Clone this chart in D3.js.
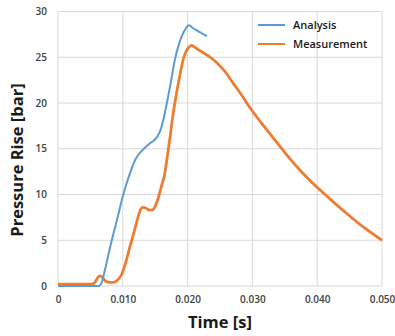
<!DOCTYPE html>
<html>
<meta charset="utf-8">
<script src="https://d3js.org/d3.v7.min.js"></script>
<style>
  body { margin: 0; background: #fff; }
  text { font-family: "Open Sans", sans-serif; }
</style>
<div id="chart_div"></div>
<script>

// time [s] and pressure rise [bar]
var analysisT = [0, 0.0063, 0.0067, 0.0072, 0.0078, 0.0083, 0.0092, 0.0100, 0.0111, 0.0120, 0.0127, 0.0134,
  0.0142, 0.0148, 0.0153, 0.0158, 0.0163, 0.0168, 0.0174, 0.0180, 0.0186, 0.0191, 0.0196, 0.0202,
  0.0208, 0.0215, 0.0222, 0.0230];
var analysisP = [0, 0, 0.3, 1.6, 3.5, 5.0, 7.5, 9.8, 12.3, 13.9, 14.6, 15.1,
  15.6, 15.9, 16.3, 17.0, 18.3, 20.0, 22.2, 24.6, 26.3, 27.3, 28.0, 28.5,
  28.2, 27.9, 27.6, 27.3];

var measT = [0, 0.0052, 0.0057, 0.0061, 0.0065, 0.0069, 0.0074, 0.0080, 0.0086, 0.0091, 0.0095,
  0.0099, 0.0105, 0.0111, 0.0117, 0.0123, 0.0127, 0.0131, 0.0136, 0.0141, 0.0145, 0.0150, 0.0155,
  0.0160, 0.0164, 0.0168, 0.0173, 0.0178, 0.0183, 0.0188, 0.0193, 0.0198, 0.0202, 0.0206, 0.0211,
  0.0217, 0.0224, 0.0235, 0.0245, 0.0257, 0.0270, 0.0283, 0.0296, 0.0314, 0.0332, 0.0350, 0.0369,
  0.0385, 0.0401, 0.0420, 0.0446, 0.0472, 0.0500];
var measP = [0.2, 0.2, 0.4, 0.9, 1.1, 0.9, 0.5, 0.4, 0.4, 0.6, 0.9,
  1.4, 2.7, 4.3, 5.8, 7.4, 8.3, 8.6, 8.5, 8.3, 8.3, 8.7, 9.7,
  11.0, 12.0, 13.8, 16.3, 19.0, 21.1, 23.0, 24.7, 25.7, 26.1, 26.3, 26.1,
  25.8, 25.5, 25.0, 24.4, 23.5, 22.2, 20.9, 19.5, 17.8, 16.2, 14.6, 13.0,
  11.8, 10.7, 9.5, 7.9, 6.4, 5.0];

var xTicks = [0, 0.01, 0.02, 0.03, 0.04, 0.05];
var xTickLabels = ["0", "0.010", "0.020", "0.030", "0.040", "0.050"];
var yTicks = [0, 5, 10, 15, 20, 25, 30];
var seriesNames = ["Analysis", "Measurement"];
var seriesColors = ["#5b9bd5", "#ed7d31"];

var W = 395, H = 336;
var margin = {top: 11.5, right: 13, bottom: 50, left: 58},
  width = W - margin.left - margin.right,
  height = H - margin.top - margin.bottom;

var svg = d3.select("#chart_div")
.append("svg")
  .attr("width", W)
  .attr("height", H);

var g = svg.append("g")
  .attr("transform", "translate(" + margin.left + "," + margin.top + ")");

var x = d3.scaleLinear().domain([0, 0.05]).range([0, width]);
var y = d3.scaleLinear().domain([0, 30]).range([height, 0]);

// grid
g.selectAll(".vgrid").data(xTicks).enter().append("line")
  .attr("x1", function(d) { return x(d); }).attr("x2", function(d) { return x(d); })
  .attr("y1", 0).attr("y2", height)
  .attr("stroke", "#d9d9d9").attr("stroke-width", 1);
g.selectAll(".hgrid").data(yTicks).enter().append("line")
  .attr("x1", 0).attr("x2", width)
  .attr("y1", function(d) { return y(d); }).attr("y2", function(d) { return y(d); })
  .attr("stroke", "#d9d9d9").attr("stroke-width", 1);

// axes (labels only)
var xAxis = g.append("g")
  .attr("transform", "translate(0," + height + ")")
  .call(d3.axisBottom(x).tickValues(xTicks).tickSize(0).tickPadding(10)
    .tickFormat(function(d, i) { return xTickLabels[i]; }));
var yAxis = g.append("g")
  .call(d3.axisLeft(y).tickValues(yTicks).tickSize(0).tickPadding(11));
[xAxis, yAxis].forEach(function(a) {
  a.select(".domain").remove();
  a.selectAll("text")
    .style("font-family", "'Open Sans', sans-serif")
    .style("font-size", "10px")
    .style("font-weight", "600")
    .attr("fill", "#404040");
});

// lines
var line = d3.line()
  .x(function(d) { return x(d[0]); })
  .y(function(d) { return y(d[1]); })
  .curve(d3.curveMonotoneX);

g.append("path")
  .datum(measT.map(function(t, i) { return [t, measP[i]]; }))
  .attr("fill", "none")
  .attr("stroke", seriesColors[1])
  .attr("stroke-width", 2.8)
  .attr("stroke-linejoin", "round")
  .attr("d", line);

g.append("path")
  .datum(analysisT.map(function(t, i) { return [t, analysisP[i]]; }))
  .attr("fill", "none")
  .attr("stroke", seriesColors[0])
  .attr("stroke-width", 2)
  .attr("d", line);

// legend
var legend = svg.append("g");
seriesNames.forEach(function(name, i) {
  var ly = 25 + i * 19;
  legend.append("line")
    .attr("x1", 258).attr("x2", 285)
    .attr("y1", ly).attr("y2", ly)
    .attr("stroke", seriesColors[i]).attr("stroke-width", 2);
  legend.append("text")
    .attr("x", 293).attr("y", ly)
    .attr("dy", "0.35em")
    .style("font-size", "11px")
    .style("font-weight", "600")
    .attr("fill", "#1a1a1a")
    .text(name);
});

// axis titles
svg.append("text")
  .attr("x", margin.left + width / 2)
  .attr("y", 328)
  .attr("text-anchor", "middle")
  .style("font-size", "16.5px")
  .style("font-weight", "700")
  .attr("fill", "#1a1a1a")
  .text("Time [s]");

svg.append("text")
  .attr("transform", "translate(23,160) rotate(-90)")
  .attr("text-anchor", "middle")
  .style("font-size", "16.5px")
  .style("font-weight", "700")
  .attr("fill", "#1a1a1a")
  .text("Pressure Rise [bar]");

</script>
</html>
